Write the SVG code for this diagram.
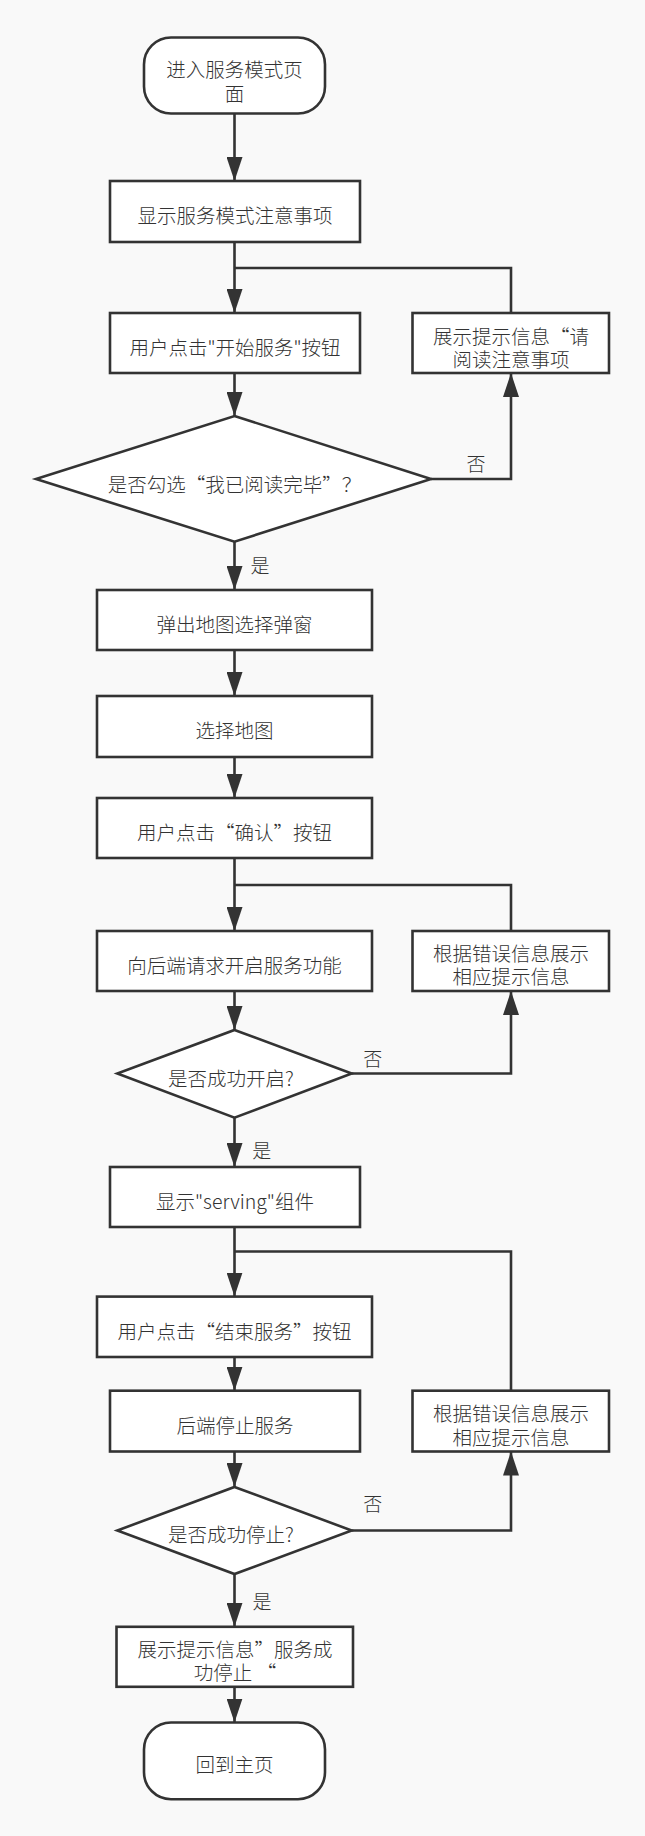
<svg xmlns="http://www.w3.org/2000/svg" width="645" height="1836" viewBox="0 0 645 1836">
  <style>
    .n { fill: #ffffff; stroke: #333333; stroke-width: 2.6; }
    .t { font-family: "Noto Sans CJK SC", "Liberation Sans", sans-serif; font-size: 19.5px; font-weight: 300; fill: #333333; text-anchor: middle; dominant-baseline: central; }
    .e { fill: none; stroke: #333333; stroke-width: 2.6; }
    .a { marker-end: url(#arrow); }
    .l { font-family: "Noto Sans CJK SC", "Liberation Sans", sans-serif; font-size: 19px; font-weight: 300; fill: #333333; text-anchor: middle; dominant-baseline: central; }
  </style>
  <defs>
    <marker id="arrow" markerUnits="userSpaceOnUse" markerWidth="24" markerHeight="16" refX="24" refY="8" orient="auto">
      <path d="M0,0 L24,8 L0,16 Z" fill="#333333"/>
    </marker>
  </defs>
  <rect x="0" y="0" width="645" height="1836" fill="#f9f9f9"/>

  <g id="connectors">
    <path class="e a" d="M234.5,114 V181"/>
    <path class="e a" d="M234.5,242 V313"/>
    <path class="e" d="M511,313 V268 H234.5"/>
    <path class="e a" d="M234.5,373 V416"/>
    <path class="e a" d="M431,479 H511 V373"/>
    <path class="e a" d="M234.5,541.7 V590"/>
    <path class="e a" d="M234.5,650 V696"/>
    <path class="e a" d="M234.5,757 V798"/>
    <path class="e a" d="M234.5,858 V931"/>
    <path class="e" d="M511,931 V885 H234.5"/>
    <path class="e a" d="M234.5,991 V1030"/>
    <path class="e a" d="M351.7,1073.5 H511 V991"/>
    <path class="e a" d="M234.5,1117.7 V1167"/>
    <path class="e a" d="M234.5,1227 V1296.6"/>
    <path class="e" d="M511,1390.7 V1251.5 H234.5"/>
    <path class="e a" d="M234.5,1357 V1390.7"/>
    <path class="e a" d="M234.5,1451.5 V1487"/>
    <path class="e a" d="M351.7,1530.5 H511 V1451.5"/>
    <path class="e a" d="M234.5,1574 V1626.8"/>
    <path class="e a" d="M234.5,1686.8 V1722.5"/>
    <text class="l" x="476" y="462">否</text>
    <text class="l" x="260" y="564">是</text>
    <text class="l" x="372.7" y="1057">否</text>
    <text class="l" x="261.7" y="1149">是</text>
    <text class="l" x="372.7" y="1502">否</text>
    <text class="l" x="262" y="1600">是</text>
  </g>

  <g id="start">
    <rect class="n" x="144" y="37.5" width="181" height="76" rx="27" ry="27"/>
    <text class="t" x="234.5" y="68">进入服务模式页<tspan x="234.5" dy="23.5">面</tspan></text>
  </g>
  <g id="box1">
    <rect class="n" x="110" y="181" width="250" height="61"/>
    <text class="t" x="235" y="214">显示服务模式注意事项</text>
  </g>
  <g id="box2">
    <rect class="n" x="110" y="313" width="250" height="60"/>
    <text class="t" x="235" y="346">用户点击"开始服务"按钮</text>
  </g>
  <g id="rbox1">
    <rect class="n" x="412.5" y="313" width="196.5" height="60"/>
    <text class="t" x="511" y="335">展示提示信息“请<tspan x="511" dy="23">阅读注意事项</tspan></text>
  </g>
  <g id="d1">
    <polygon class="n" points="234.5,416 431,479 234.5,541.7 36,479"/>
    <text class="t" x="234.5" y="483">是否勾选“我已阅读完毕”？</text>
  </g>
  <g id="box3">
    <rect class="n" x="97" y="590" width="275" height="60"/>
    <text class="t" x="234.5" y="623">弹出地图选择弹窗</text>
  </g>
  <g id="box4">
    <rect class="n" x="97" y="696" width="275" height="61"/>
    <text class="t" x="234.5" y="729.5">选择地图</text>
  </g>
  <g id="box5">
    <rect class="n" x="97" y="798" width="275" height="60"/>
    <text class="t" x="234.5" y="831">用户点击“确认”按钮</text>
  </g>
  <g id="box6">
    <rect class="n" x="97" y="931" width="275" height="60"/>
    <text class="t" x="234.5" y="964">向后端请求开启服务功能</text>
  </g>
  <g id="rbox2">
    <rect class="n" x="412.5" y="931" width="196.5" height="60"/>
    <text class="t" x="511" y="952">根据错误信息展示<tspan x="511" dy="23">相应提示信息</tspan></text>
  </g>
  <g id="d2">
    <polygon class="n" points="234.5,1030 351.7,1073.5 234.5,1117.7 117.3,1073.5"/>
    <text class="t" x="231" y="1077">是否成功开启?</text>
  </g>
  <g id="box7">
    <rect class="n" x="110" y="1167" width="250" height="60"/>
    <text class="t" x="235" y="1200">显示"serving"组件</text>
  </g>
  <g id="box8">
    <rect class="n" x="97" y="1296.6" width="275" height="60.4"/>
    <text class="t" x="234.5" y="1330">用户点击“结束服务”按钮</text>
  </g>
  <g id="box9">
    <rect class="n" x="110" y="1390.7" width="250" height="60.8"/>
    <text class="t" x="235" y="1424">后端停止服务</text>
  </g>
  <g id="rbox3">
    <rect class="n" x="412.5" y="1390.7" width="196.5" height="60.8"/>
    <text class="t" x="511" y="1412.5">根据错误信息展示<tspan x="511" dy="23">相应提示信息</tspan></text>
  </g>
  <g id="d3">
    <polygon class="n" points="234.5,1487 351.7,1530.5 234.5,1574 117.3,1530.5"/>
    <text class="t" x="231" y="1533">是否成功停止?</text>
  </g>
  <g id="box10">
    <rect class="n" x="116.5" y="1626.8" width="236.5" height="60"/>
    <text class="t" x="235" y="1648.3">展示提示信息”服务成<tspan x="235" dy="22.2">功停止 “</tspan></text>
  </g>
  <g id="end">
    <rect class="n" x="144" y="1722.5" width="181" height="76.7" rx="27" ry="27"/>
    <text class="t" x="234.5" y="1763.5">回到主页</text>
  </g>
</svg>
